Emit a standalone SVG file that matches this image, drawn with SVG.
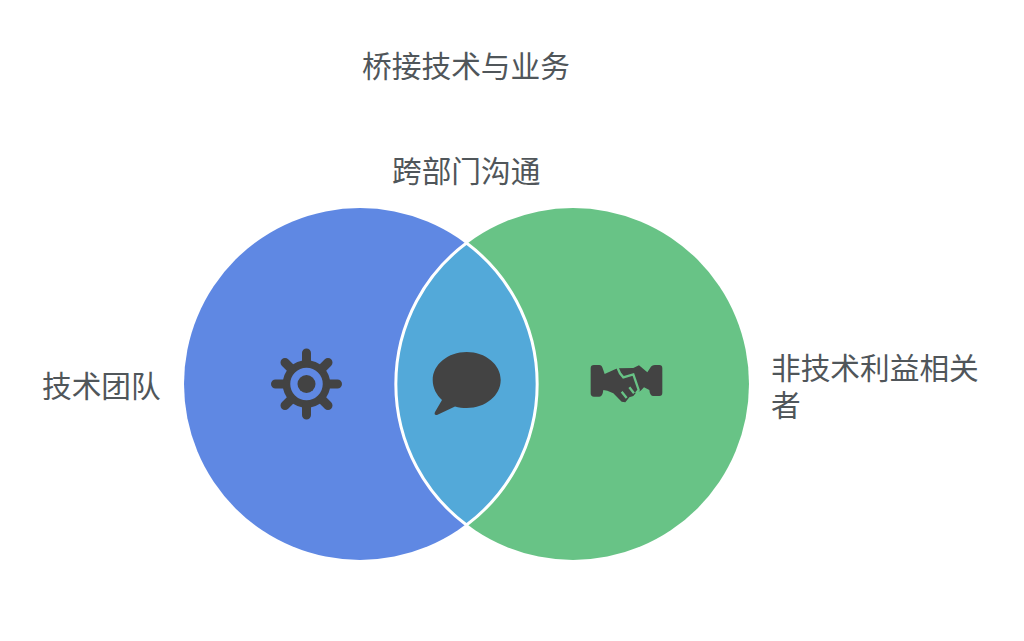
<svg xmlns="http://www.w3.org/2000/svg" width="1024" height="641" viewBox="0 0 1024 641">
<style>
text{font-family:"Noto Sans CJK SC","Noto Sans",sans-serif;font-size:29.700px;fill:#50565a;font-weight:400}
.ic{fill:#434343}
</style>
<rect width="1024" height="641" fill="#ffffff"/>
<text id="title" x="466" y="77" text-anchor="middle">桥接技术与业务</text>
<g id="node-left">
<circle cx="360" cy="384" r="176" fill="#5f88e3"/>
<text x="42" y="397">技术团队</text>
<g id="gear" fill="none" stroke="#434343" stroke-linecap="round">
<circle cx="306.500" cy="384" r="20" stroke-width="7.500"/>
<path stroke-width="9" d="M306.500 362V353 M306.500 406V415 M284.500 384H275.500 M328.500 384H337.500 M291 368.500L285 362.500 M322 368.500L328 362.500 M291 399.500L285 405.500 M322 399.500L328 405.500"/>
<circle cx="306.500" cy="384" r="9" fill="#434343" stroke="none"/>
</g>
</g>
<g id="node-right">
<circle cx="573" cy="384" r="176" fill="#68c386"/>
<text x="771" y="379">非技术利益相关<tspan x="771" y="416">者</tspan></text>
<g id="handshake" transform="translate(570 340) scale(.3333)">
<path class="ic" d="M62 85Q62 75 72 75H88Q95 75 98 85L104 102 142 85 190 84 207 76 232 97 240 85Q245 75 255 75H268Q277 75 277 85V158Q277 168 268 168H250Q240 168 238 150L222 142 212 152 198 158 190 168 178 172 166 187 155 185 130 160 112 152 100 150Q98 170 88 170H72Q62 170 62 160Z"/>
<path fill="none" stroke="#68c386" stroke-width="7" d="M142 82L150 100 160 112 190 103 206 150 198 160M192 160L178 142M170 174L155 155"/>
</g>
</g>
<g id="node-overlap">
<path d="M466.500 243A176 176 0 0 0 466.500 525A176 176 0 0 0 466.500 243Z" fill="#53a9d9" stroke="#ffffff" stroke-width="3"/>
<path id="bubble" class="ic" d="M466.700 352C485.500 352 500.700 364.500 500.700 380 500.700 395.500 485.500 408 466.700 408 462.500 408 459 407.500 455 406.500L437 415C435 415.500 434 414 435 412L442 400C436.500 395 432.700 388 432.700 380 432.700 364.500 448 352 466.700 352Z"/>
<text x="392" y="182">跨部门沟通</text>
</g>
</svg>
